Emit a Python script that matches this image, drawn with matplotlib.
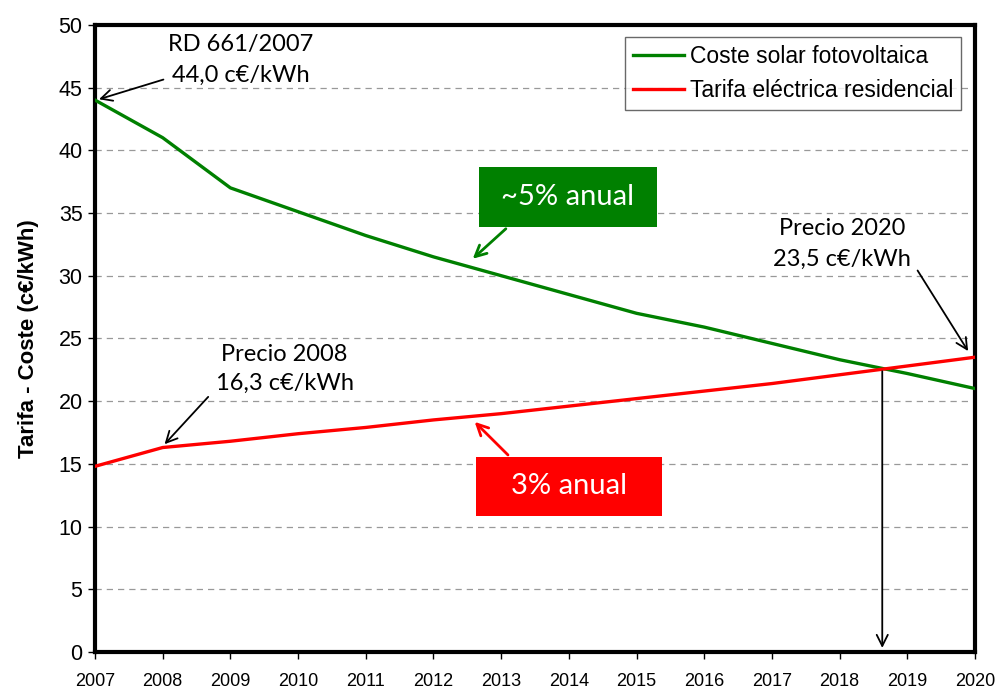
import matplotlib.pyplot as plt
from matplotlib.patches import Rectangle
import numpy as np

years = np.arange(2007, 2021)
coste_fv = [44.0, 41.0, 37.0, 35.1, 33.2, 31.5, 30.0, 28.5, 27.0, 25.9, 24.6, 23.3, 22.2, 21.0]
tarifa = [14.8, 16.3, 16.8, 17.4, 17.9, 18.5, 19.0, 19.6, 20.2, 20.8, 21.4, 22.1, 22.8, 23.5]
cruce_x = 2018.63
cruce_y = 22.6

plt.rcParams['font.family'] = ['Liberation Sans', 'DejaVu Sans']
note_font = ['Lato', 'DejaVu Sans']

fig = plt.figure(figsize=(10, 6.93), dpi=100)
ax = fig.add_axes([0.095, 0.0592, 0.88, 0.905])

ax.plot(years, coste_fv, color='#008000', lw=2.4, label='Coste solar fotovoltaica', zorder=3)
ax.plot(years, tarifa, color='#ff0000', lw=2.4, label='Tarifa eléctrica residencial', zorder=3)

ax.set_xlim(2007, 2020)
ax.set_ylim(0, 50)
ax.set_xticks(years)
ax.set_yticks(range(0, 51, 5))
ax.tick_params(axis='x', labelsize=13, pad=10, length=5, width=1)
ax.tick_params(axis='y', labelsize=15.5, length=5, width=1, pad=4)
ax.yaxis.grid(True, color='#999999', ls=(0, (5, 4)), lw=0.9)
for s in ax.spines.values():
    s.set_linewidth(3)
ax.set_ylabel('Tarifa - Coste (c€/kWh)', fontsize=16, fontweight='bold', labelpad=14)

leg = ax.legend(loc='upper right', fontsize=16.5, fancybox=False, edgecolor='#444444',
                handlelength=2.2, handletextpad=0.25, borderpad=0.35, labelspacing=0.5,
                borderaxespad=0, bbox_to_anchor=(0.984, 0.981))
leg.get_frame().set_linewidth(1.0)

arrow_k = dict(arrowstyle='->', color='black', lw=1.3, mutation_scale=20)

ax.text(2009.15, 48.4, 'RD 661/2007', fontsize=17, family=note_font, ha='center', va='center')
ax.text(2009.15, 46.0, '44,0 c€/kWh', fontsize=17, family=note_font, ha='center', va='center')
ax.annotate('', xy=(2007.02, 44.0), xytext=(2008.05, 45.7), arrowprops=arrow_k)

ax.text(2009.8, 23.7, 'Precio 2008', fontsize=17, family=note_font, ha='center', va='center')
ax.text(2009.8, 21.4, '16,3 c€/kWh', fontsize=17, family=note_font, ha='center', va='center')
ax.annotate('', xy=(2008.0, 16.4), xytext=(2008.7, 20.5), arrowprops=arrow_k)

ax.text(2018.04, 33.8, 'Precio 2020', fontsize=17, family=note_font, ha='center', va='center')
ax.text(2018.04, 31.3, '23,5 c€/kWh', fontsize=17, family=note_font, ha='center', va='center')
ax.annotate('', xy=(2019.92, 23.8), xytext=(2019.13, 30.6), arrowprops=arrow_k)

ax.annotate('', xy=(cruce_x, 0.1), xytext=(cruce_x, cruce_y), arrowprops=arrow_k)

ax.add_patch(Rectangle((2012.67, 33.89), 2.63, 4.79, facecolor='#008000', edgecolor='none', zorder=4))
ax.text(2013.98, 36.3, '~5% anual', fontsize=21, family=note_font, color='white',
        ha='center', va='center', zorder=5)
ax.annotate('', xy=(2012.55, 31.2), xytext=(2013.1, 33.89),
            arrowprops=dict(arrowstyle='->', color='#008000', lw=2, mutation_scale=20))

ax.add_patch(Rectangle((2012.63, 10.85), 2.75, 4.7, facecolor='#ff0000', edgecolor='none', zorder=4))
ax.text(2014.0, 13.2, '3% anual', fontsize=21, family=note_font, color='white',
        ha='center', va='center', zorder=5)
ax.annotate('', xy=(2012.58, 18.5), xytext=(2013.13, 15.55),
            arrowprops=dict(arrowstyle='->', color='#ff0000', lw=2, mutation_scale=20))

fig.savefig('out.png', dpi=100)
